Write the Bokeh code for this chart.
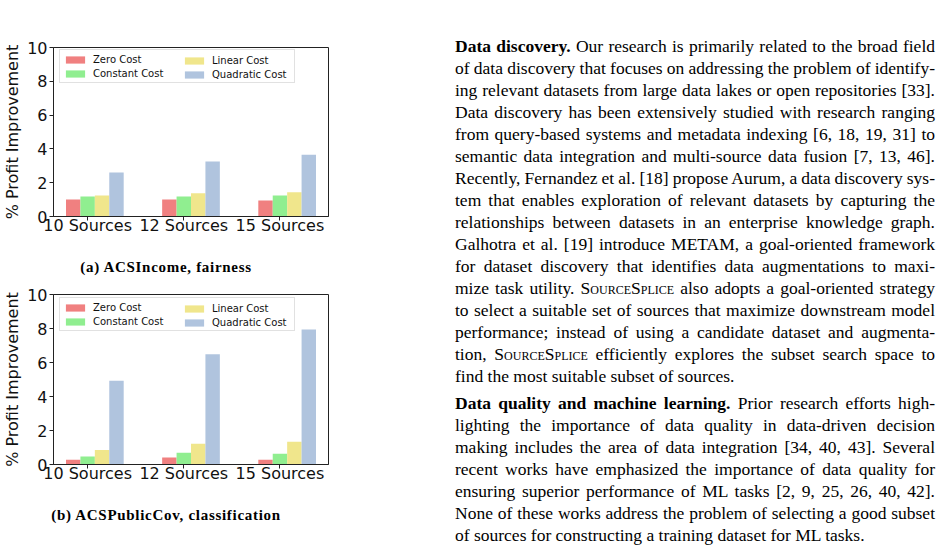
from bokeh.plotting import figure
from bokeh.models import Range1d, FixedTicker, Legend, LegendItem, Div, ColumnDataSource
from bokeh.layouts import column, row
from bokeh.embed import file_html
from bokeh.resources import INLINE

# ---------------- data ----------------
categories = ["10 Sources", "12 Sources", "15 Sources"]
series = ["Zero Cost", "Constant Cost", "Linear Cost", "Quadratic Cost"]
colors = ["#F08080", "#90EE90", "#F0E68C", "#B0C4DE"]

income_zero = [1.00, 1.00, 0.94]
income_constant = [1.18, 1.18, 1.24]
income_linear = [1.24, 1.38, 1.44]
income_quadratic = [2.60, 3.25, 3.66]

pubcov_zero = [0.28, 0.41, 0.28]
pubcov_constant = [0.47, 0.69, 0.63]
pubcov_linear = [0.86, 1.22, 1.34]
pubcov_quadratic = [4.93, 6.48, 7.94]

y_ticks = [0, 2, 4, 6, 8, 10]
caption_a = "(a) ACSIncome, fairness"
caption_b = "(b) ACSPublicCov, classification"
y_label = "% Profit Improvement"

BAR_W = 0.15
AX_COLOR = "#222222"


def make_chart(vals, height, border_top, legend_top_gap):
    border_bottom = 34
    p = figure(width=340, height=height,
               x_range=Range1d(-0.355, 2.505), y_range=Range1d(0, 10),
               output_backend="svg", toolbar_location=None,
               min_border_left=53, min_border_right=12,
               min_border_top=border_top, min_border_bottom=border_bottom)
    frame_h = height - border_top - border_bottom
    p.background_fill_color = "white"
    p.border_fill_color = "white"
    p.outline_line_color = AX_COLOR
    p.outline_line_width = 1
    p.xgrid.visible = False
    p.ygrid.visible = False

    renderers = []
    for i, (name, col, v) in enumerate(zip(series, colors, vals)):
        xs = [k + (i - 1) * BAR_W for k in range(len(categories))]
        src = ColumnDataSource(dict(x=xs, top=v))
        r = p.vbar(x="x", top="top", width=BAR_W, source=src,
                   fill_color=col, line_color=None)
        renderers.append(r)

    p.xaxis.ticker = FixedTicker(ticks=list(range(len(categories))))
    p.xaxis.major_label_overrides = {k: c for k, c in enumerate(categories)}
    p.yaxis.ticker = FixedTicker(ticks=y_ticks)
    p.yaxis.axis_label = y_label
    for ax in (p.xaxis, p.yaxis):
        ax.axis_line_color = AX_COLOR
        ax.major_tick_line_color = AX_COLOR
        ax.minor_tick_line_color = None
        ax.major_tick_in = 0
        ax.major_tick_out = 4
        ax.major_label_text_font = "DejaVu Sans"
        ax.major_label_text_font_size = "16px"
        ax.major_label_text_color = "#111111"
        ax.axis_label_text_font = "DejaVu Sans"
        ax.axis_label_text_font_size = "16px"
        ax.axis_label_text_font_style = "normal"
        ax.axis_label_text_color = "#111111"
    p.xaxis.major_label_standoff = -5
    p.yaxis.major_label_standoff = 2
    p.yaxis.axis_label_standoff = 2

    leg_h = 32
    common = dict(label_text_font="DejaVu Sans", label_text_font_size="10px",
                  label_text_color="#111111", glyph_width=24, glyph_height=9,
                  label_height=12, label_standoff=6, padding=3, spacing=2,
                  margin=0)
    leg1 = Legend(items=[LegendItem(label=series[0], renderers=[renderers[0]]),
                         LegendItem(label=series[1], renderers=[renderers[1]])],
                  location=(6, frame_h - legend_top_gap - leg_h),
                  label_width=198, border_line_color="#c4c4c4",
                  border_line_width=1, background_fill_color="white",
                  background_fill_alpha=0.8, **common)
    leg2 = Legend(items=[LegendItem(label=series[2], renderers=[renderers[2]]),
                         LegendItem(label=series[3], renderers=[renderers[3]])],
                  location=(126, frame_h - legend_top_gap - leg_h),
                  border_line_color="white", border_line_alpha=0.0,
                  background_fill_alpha=0.0, **common)
    p.add_layout(leg1)
    p.add_layout(leg2)
    return p


def caption_div(text, height, pad_top):
    html = ('<div style="width:332px;text-align:center;font-family:\'Liberation Serif\',serif;'
            'font-weight:bold;font-size:15px;letter-spacing:0.7px;line-height:20px;'
            'color:#000;padding-top:%dpx;">%s</div>' % (pad_top, text))
    return Div(text=html, width=332, height=height, margin=(0, 0, 0, 0))


fig_a = make_chart([income_zero, income_constant, income_linear, income_quadratic],
                   height=250, border_top=47, legend_top_gap=4)
cap_a = caption_div(caption_a, 30, 7)
fig_b = make_chart([pubcov_zero, pubcov_constant, pubcov_linear, pubcov_quadratic],
                   height=218, border_top=14, legend_top_gap=5)
cap_b = caption_div(caption_b, 32, 7)

SS = '<span style="font-variant:small-caps">SourceSplice</span>'
para1 = [
    "<b>Data discovery.</b> Our research is primarily related to the broad field",
    "of data discovery that focuses on addressing the problem of identify-",
    "ing relevant datasets from large data lakes or open repositories [33].",
    "Data discovery has been extensively studied with research ranging",
    "from query-based systems and metadata indexing [6, 18, 19, 31] to",
    "semantic data integration and multi-source data fusion [7, 13, 46].",
    "Recently, Fernandez et al. [18] propose Aurum, a data discovery sys-",
    "tem that enables exploration of relevant datasets by capturing the",
    "relationships between datasets in an enterprise knowledge graph.",
    "Galhotra et al. [19] introduce METAM, a goal-oriented framework",
    "for dataset discovery that identifies data augmentations to maxi-",
    "mize task utility. " + SS + " also adopts a goal-oriented strategy",
    "to select a suitable set of sources that maximize downstream model",
    "performance; instead of using a candidate dataset and augmenta-",
    "tion, " + SS + " efficiently explores the subset search space to",
    "find the most suitable subset of sources.",
]
para2 = [
    "<b>Data quality and machine learning.</b> Prior research efforts high-",
    "lighting the importance of data quality in data-driven decision",
    "making includes the area of data integration [34, 40, 43]. Several",
    "recent works have emphasized the importance of data quality for",
    "ensuring superior performance of ML tasks [2, 9, 25, 26, 40, 42].",
    "None of these works address the problem of selecting a good subset",
    "of sources for constructing a training dataset for ML tasks.",
]


def para_html(lines, extra_top):
    out = []
    for i, ln in enumerate(lines):
        last = i == len(lines) - 1
        al = "left" if last else "justify"
        style = "height:22px;line-height:22px;text-align:%s;text-align-last:%s;" % (al, al)
        style += "word-spacing:%s;" % ("0px" if last else "-2px")
        if i == 0 and extra_top:
            style += "margin-top:%dpx;" % extra_top
        out.append('<div style="%s">%s</div>' % (style, ln))
    return "".join(out)


body = ('<div style="width:480px;padding-top:35px;font-family:\'Liberation Serif\',serif;'
        'font-size:17.5px;color:#000;">'
        + para_html(para1, 0) + para_html(para2, 5) + '</div>')
text_div = Div(text=body, width=480, height=540, margin=(0, 0, 0, 115))

left = column(fig_a, cap_a, fig_b, cap_b, spacing=0)
layout = row(left, text_div, spacing=0)

open("out.html", "w").write(file_html(layout, INLINE))
